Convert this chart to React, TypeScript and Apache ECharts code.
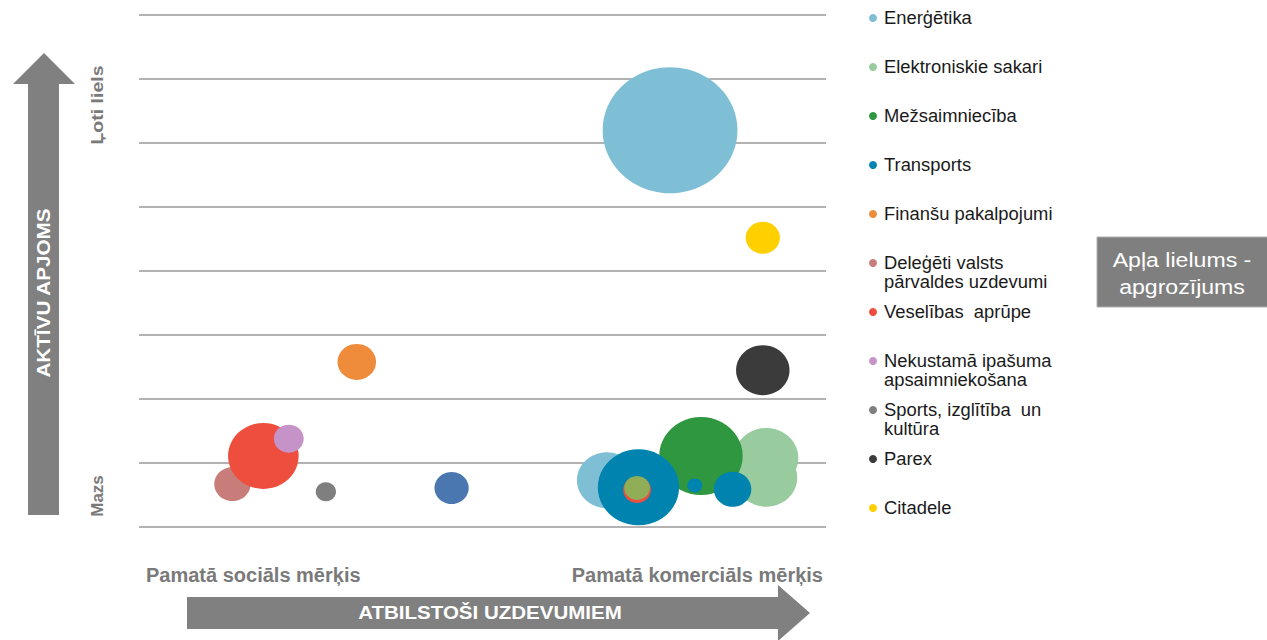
import React, { useEffect, useRef } from "react";
import * as echarts from "echarts";

// Each bubble: [task orientation (0 social … 100 commercial), asset size (0 … 8), turnover bubble size]
const seriesNames = [
  "Enerģētika",
  "Elektroniskie sakari",
  "Mežsaimniecība",
  "Transports",
  "Finanšu pakalpojumi",
  "Deleģēti valsts\npārvaldes uzdevumi",
  "Veselības  aprūpe",
  "Nekustamā ipašuma\napsaimniekošana",
  "Sports, izglītība  un\nkultūra",
  "Parex",
  "Citadele",
];

const seriesColors = [
  "#7fbfd6",
  "#98cb9e",
  "#2e9740",
  "#0083ae",
  "#ee8c3c",
  "#c97d7b",
  "#ee4e3e",
  "#c693c8",
  "#7f7f7f",
  "#3b3b3b",
  "#ffd000",
];

const energetika = [
  [77.3, 6.2, 126],
  [68.1, 0.73, 56],
];
const elektroniskie = [
  [91.3, 1.08, 60],
  [91.3, 0.77, 58],
];
const mezsaimnieciba = [[81.8, 1.11, 78]];
const transports = [
  [72.7, 0.62, 76],
  [80.9, 0.65, 14],
  [86.4, 0.59, 35],
];
// Separate darker-blue entity in the transport group
const transportsOther = [[45.5, 0.61, 32]];
const finansu = [[31.7, 2.58, 36]];
const delegeti = [[13.6, 0.67, 34]];
const veseliba = [
  [18.1, 1.11, 66],
  [72.5, 0.58, 26],
];
// Small olive overlay inside the large transport bubble
const veselibaOverlay = [[72.5, 0.61, 24]];
const nekustama = [[21.8, 1.38, 28]];
const sports = [[27.2, 0.55, 19]];
const parex = [[90.8, 2.45, 50]];
const citadele = [[90.8, 4.52, 32]];

const seriesData = [
  energetika,
  elektroniskie,
  mezsaimnieciba,
  transports,
  finansu,
  delegeti,
  veseliba,
  nekustama,
  sports,
  parex,
  citadele,
];

const yAxisLabels = ["Ļoti liels", "Mazs"];
const xAxisLabels = ["Pamatā sociāls mērķis", "Pamatā komerciāls mērķis"];
const yArrowTitle = "AKTĪVU APJOMS";
const xArrowTitle = "ATBILSTOŠI UZDEVUMIEM";
const bubbleNote = "Apļa lielums -\napgrozījums";

const FONT = "'Liberation Sans', Arial, sans-serif";
const ARROW = "#808080";
const AXIS_TEXT = "#7a7a7a";

export default function App() {
  const ref = useRef<HTMLDivElement>(null);

  useEffect(() => {
    if (!ref.current) return;
    const chart = echarts.init(ref.current, undefined, { renderer: "svg" });

    const sizeFn = (v: number[]) => [v[2] * 1.07, v[2]];

    const series: any[] = seriesNames.map((name, i) => {
      const data: any[] = seriesData[i].map((v) => ({ value: v }));
      if (i === 3) {
        transportsOther.forEach((v) =>
          data.unshift({ value: v, itemStyle: { color: "#4a77b0" } })
        );
      }
      if (i === 6) {
        veselibaOverlay.forEach((v) =>
          data.push({ value: v, itemStyle: { color: "#90ae58" } })
        );
      }
      return {
        name,
        type: "scatter",
        data,
        symbolSize: sizeFn,
        itemStyle: { color: seriesColors[i], opacity: 1 },
        emphasis: { disabled: true },
      };
    });

    // Legend drawn as dot + text rows
    const legendY = [18, 67, 116, 165, 214, 263, 312, 361, 410, 459, 508];
    const legendGraphics: any[] = [];
    seriesNames.forEach((name, i) => {
      legendGraphics.push({
        type: "circle",
        shape: { cx: 873, cy: legendY[i], r: 4 },
        style: { fill: seriesColors[i] },
      });
      legendGraphics.push({
        type: "text",
        x: 884,
        y: legendY[i] - 9.5,
        scaleX: 1.05,
        style: {
          text: name,
          font: `17.5px ${FONT}`,
          fill: "#1a1a1a",
          lineHeight: 19,
          textVerticalAlign: "top",
        },
      });
    });

    chart.setOption({
      animation: false,
      grid: { left: 139, right: 441, top: 15, bottom: 113 },
      xAxis: {
        type: "value",
        min: 0,
        max: 100,
        show: false,
        splitLine: { show: false },
      },
      yAxis: {
        type: "value",
        min: 0,
        max: 8,
        interval: 1,
        axisLine: { show: false },
        axisTick: { show: false },
        axisLabel: { show: false },
        splitLine: { show: true, lineStyle: { color: "#999999", width: 1.6 } },
      },
      series,
      graphic: [
        // vertical arrow
        {
          type: "polygon",
          shape: {
            points: [
              [28, 515],
              [28, 84],
              [13, 84],
              [44, 53],
              [75, 84],
              [59, 84],
              [59, 515],
            ],
          },
          style: { fill: ARROW },
        },
        {
          type: "text",
          x: 44,
          y: 293,
          rotation: Math.PI / 2,
          scaleX: 1.15,
          style: {
            text: yArrowTitle,
            font: `bold 18px ${FONT}`,
            fill: "#ffffff",
            align: "center",
            verticalAlign: "middle",
          },
        },
        {
          type: "text",
          x: 97,
          y: 105,
          rotation: Math.PI / 2,
          scaleX: 1.15,
          style: {
            text: yAxisLabels[0],
            font: `bold 17px ${FONT}`,
            fill: AXIS_TEXT,
            align: "center",
            verticalAlign: "middle",
          },
        },
        {
          type: "text",
          x: 97,
          y: 496,
          rotation: Math.PI / 2,
          style: {
            text: yAxisLabels[1],
            font: `bold 17px ${FONT}`,
            fill: AXIS_TEXT,
            align: "center",
            verticalAlign: "middle",
          },
        },
        // horizontal arrow
        {
          type: "polygon",
          shape: {
            points: [
              [187, 597],
              [778, 597],
              [778, 585],
              [810, 613],
              [778, 641],
              [778, 629],
              [187, 629],
            ],
          },
          style: { fill: ARROW },
        },
        {
          type: "text",
          x: 490,
          y: 613,
          scaleX: 1.14,
          style: {
            text: xArrowTitle,
            font: `bold 18px ${FONT}`,
            fill: "#ffffff",
            align: "center",
            verticalAlign: "middle",
          },
        },
        {
          type: "text",
          x: 146,
          y: 575,
          style: {
            text: xAxisLabels[0],
            font: `bold 20px ${FONT}`,
            fill: AXIS_TEXT,
            align: "left",
            verticalAlign: "middle",
          },
        },
        {
          type: "text",
          x: 823,
          y: 575,
          style: {
            text: xAxisLabels[1],
            font: `bold 20px ${FONT}`,
            fill: AXIS_TEXT,
            align: "right",
            verticalAlign: "middle",
          },
        },
        // bubble-size note box
        {
          type: "rect",
          shape: { x: 1097, y: 237, width: 175, height: 70 },
          style: { fill: "#7f7f7f", stroke: "#b0b0b0", lineWidth: 1 },
        },
        {
          type: "text",
          x: 1182,
          y: 273,
          scaleX: 1.1,
          style: {
            text: bubbleNote,
            font: `21px ${FONT}`,
            fill: "#ffffff",
            align: "center",
            verticalAlign: "middle",
            lineHeight: 27,
          },
        },
        ...legendGraphics,
      ],
    });

    return () => chart.dispose();
  }, []);

  return (
    <div
      ref={ref}
      style={{ position: "absolute", left: 0, top: 0, width: 1267, height: 640 }}
    />
  );
}
